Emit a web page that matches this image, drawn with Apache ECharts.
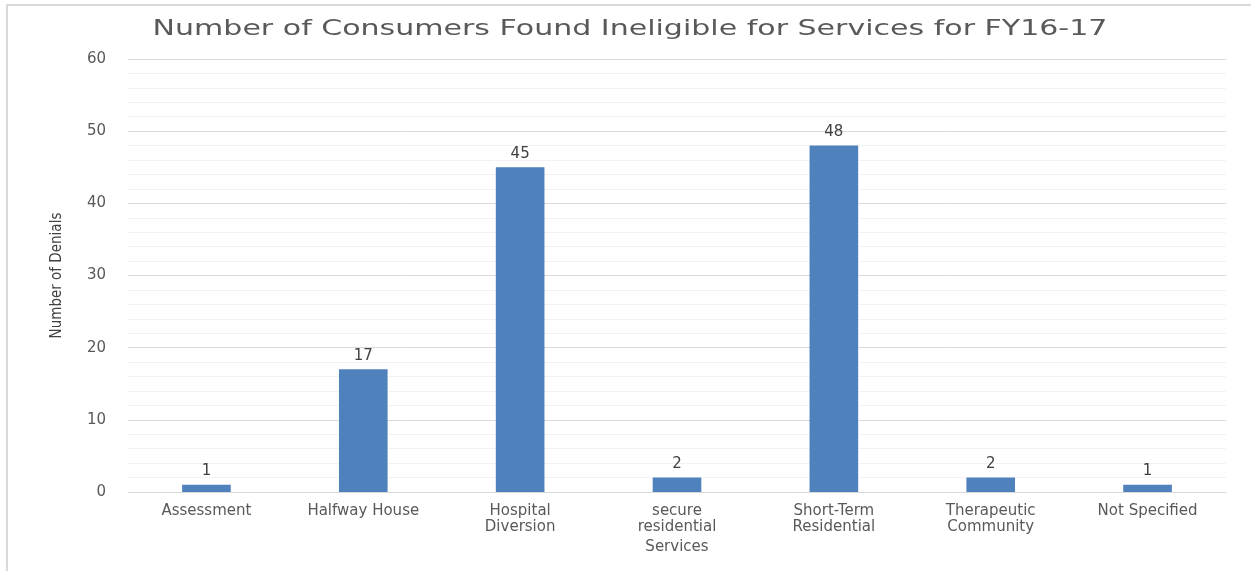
<!DOCTYPE html>
<html>
<head>
<meta charset="utf-8">
<script src="https://cdn.jsdelivr.net/npm/echarts@6/dist/echarts.min.js"></script>
<style>
  html, body { margin: 0; padding: 0; background: #fff; }
  #chart { width: 1251px; height: 571px; }
</style>
</head>
<body>
<div id="chart"></div>
<script>
var chartTitle = "Number of Consumers Found Ineligible for Services for FY16-17"
var services = ["Assessment", "Halfway House", "Hospital\nDiversion", "secure\nresidential", "Short-Term\nResidential", "Therapeutic\nCommunity", "Not Specified"]
var denials = [1, 17, 45, 2, 48, 2, 1]

var chartDom = document.getElementById("chart")
var myChart = echarts.init(chartDom)

var option = {
    animation: false,
    graphic: [
        // the title in the source image is stretched wide, so scale it
        {
            type: "text",
            x: 630,
            y: 30,
            scaleX: 1.43,
            style: {
                text: chartTitle,
                x: 0,
                y: 0,
                align: "center",
                verticalAlign: "middle",
                font: "21px 'DejaVu Sans'",
                fill: "#595959"
            }
        },
        {
            type: "line",
            shape: { x1: 7, y1: 4, x2: 7, y2: 571 },
            style: { stroke: "#d9d9d9", lineWidth: 2 }
        },
        {
            type: "line",
            shape: { x1: 6, y1: 5, x2: 1251, y2: 5 },
            style: { stroke: "#d9d9d9", lineWidth: 2 }
        }
    ],
    grid: {
        left: 128,
        right: 25,
        top: 59,
        bottom: 79
    },
    xAxis: {
        type: "category",
        data: services,
        name: "Services",
        nameLocation: "middle",
        nameGap: 47,
        nameTextStyle: {
            fontFamily: "DejaVu Sans",
            fontSize: 15,
            color: "#595959"
        },
        axisLine: { lineStyle: { color: "#d9d9d9" } },
        axisTick: { show: false },
        axisLabel: {
            interval: 0,
            margin: 11,
            fontFamily: "DejaVu Sans",
            fontSize: 15,
            lineHeight: 16,
            color: "#595959"
        }
    },
    yAxis: {
        type: "value",
        min: 0,
        max: 60,
        interval: 10,
        name: "Number of Denials",
        nameLocation: "middle",
        nameGap: 63,
        nameTextStyle: {
            fontFamily: "'DejaVu Sans Condensed', sans-serif",
            fontSize: 15,
            color: "#404040"
        },
        axisLine: { show: false },
        axisTick: { show: false },
        axisLabel: {
            margin: 22,
            fontFamily: "DejaVu Sans",
            fontSize: 15,
            color: "#595959"
        },
        splitLine: { lineStyle: { color: "#d9d9d9" } },
        minorTick: { show: false, splitNumber: 5 },
        minorSplitLine: { show: true, lineStyle: { color: "#f2f2f2" } }
    },
    series: [
        {
            type: "bar",
            data: denials,
            barWidth: "31%",
            itemStyle: { color: "#4f81bd" },
            label: {
                show: true,
                position: "top",
                distance: 6,
                fontFamily: "DejaVu Sans",
                fontSize: 15,
                color: "#404040"
            }
        }
    ]
}

myChart.setOption(option)
</script>
</body>
</html>
